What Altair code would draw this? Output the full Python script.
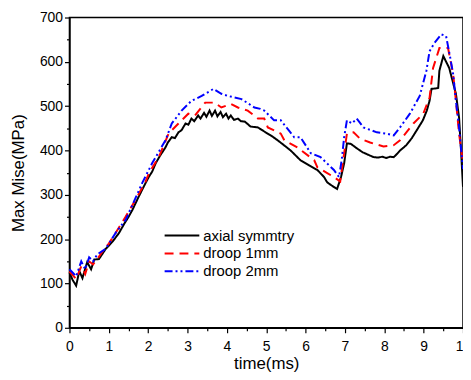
import altair as alt
import pandas as pd

series_names = ["axial symmtry", "droop 1mm", "droop 2mm"]

black_t = [0.0, 0.08, 0.17, 0.25, 0.33, 0.45, 0.55, 0.63, 0.75, 0.92, 1.0, 1.1, 1.26, 1.4, 1.5, 1.6, 1.76,
           1.93, 2.02, 2.1, 2.19, 2.3, 2.44, 2.5, 2.6, 2.68, 2.77, 2.85, 2.95, 3.02, 3.1, 3.17, 3.27, 3.33,
           3.42, 3.48, 3.56, 3.62, 3.7, 3.76, 3.84, 3.9, 3.98, 4.04, 4.1, 4.18, 4.28, 4.36, 4.46, 4.6, 4.79,
           5.0, 5.15, 5.29, 5.45, 5.62, 5.87, 6.1, 6.3, 6.47, 6.55, 6.68, 6.8, 6.9, 6.98, 7.05, 7.15,
           7.3, 7.45, 7.6, 7.73, 7.85, 7.95, 8.05, 8.15, 8.24, 8.32, 8.4, 8.56, 8.7, 8.82, 8.98, 9.08, 9.15,
           9.2, 9.3, 9.37, 9.4, 9.5, 9.65, 9.82, 9.9, 9.95, 10.0]
black_v = [125, 108, 95, 128, 112, 148, 132, 154, 155, 178, 185, 195, 214, 236, 250, 266, 296,
           326, 341, 352, 371, 388, 407, 418, 430, 428, 441, 446, 461, 458, 472, 466, 479, 472,
           485, 476, 490, 478, 490, 477, 487, 475, 483, 472, 479, 469, 472, 466, 465, 454, 452,
           440, 432, 423, 412, 400, 378, 366, 356, 340, 328, 320, 313, 340, 371, 416, 415,
           405, 396, 390, 385, 384, 386, 383, 386, 385, 392, 400, 412, 428, 445, 468, 490, 512,
           539, 540, 541, 580, 613, 586, 528, 474, 400, 318]

red_t = [0.0, 0.17, 0.3, 0.4, 0.5, 0.6, 0.7, 0.84, 1.0, 1.18, 1.43, 1.68, 1.93, 2.02, 2.27, 2.52,
         2.77, 3.02, 3.19, 3.45, 3.69, 3.86, 4.1, 4.28, 4.53, 4.79, 4.95, 5.04, 5.37, 5.46, 5.79,
         6.22, 6.3, 6.55, 6.72, 6.88, 6.98, 7.05, 7.22, 7.38, 7.64, 7.98, 8.24, 8.4, 8.74, 8.99,
         9.15, 9.24, 9.4, 9.62, 9.75, 9.82, 9.9, 10.0]
red_v = [127, 110, 139, 121, 150, 143, 154, 172, 190, 215, 251, 289, 329, 349, 385, 438,
         461, 483, 479, 508, 508, 497, 505, 497, 490, 472, 472, 452, 438, 423, 407,
         378, 362, 349, 340, 330, 394, 438, 441, 427, 418, 409, 412, 423, 461, 483,
         519, 586, 631, 631, 572, 512, 438, 371]

blue_t = [0.0, 0.17, 0.3, 0.4, 0.5, 0.6, 0.71, 0.92, 1.18, 1.43, 1.68, 1.85, 2.1, 2.44, 2.6, 2.85,
          3.1, 3.36, 3.66, 3.86, 4.03, 4.37, 4.7, 4.85, 4.95, 5.2, 5.37, 5.71, 5.87, 6.13, 6.38,
          6.72, 6.85, 6.92, 6.98, 7.05, 7.18, 7.3, 7.47, 7.81, 8.06, 8.24, 8.4, 8.65, 8.9, 9.07,
          9.15, 9.27, 9.45, 9.57, 9.66, 9.75, 9.82, 9.9, 10.0]
blue_v = [132, 116, 150, 132, 159, 150, 166, 178, 215, 244, 293, 327, 371, 423, 461, 490,
          512, 523, 539, 528, 523, 516, 497, 494, 490, 468, 468, 430, 430, 394, 385,
          356, 340, 380, 430, 468, 461, 472, 452, 441, 438, 434, 452, 483, 523, 580,
          624, 642, 662, 658, 617, 572, 512, 452, 358]

rows = []
for name, ts, vs in zip(series_names, [black_t, red_t, blue_t], [black_v, red_v, blue_v]):
    for i, (t, v) in enumerate(zip(ts, vs)):
        rows.append({"time": t, "value": v, "series": name, "order": i})
df = pd.DataFrame(rows)

FONT = "Liberation Sans"

x_axis = alt.Axis(
    title="time(ms)",
    values=[i * 0.5 for i in range(21)],
    labelExpr="datum.value % 1 === 0 ? format(datum.value, 'd') : ''",
    tickSize={"condition": {"test": "datum.value % 1 === 0", "value": 5}, "value": 3},
    grid=False, domainColor="black", tickColor="black", domainWidth=1.5, tickWidth=1.2,
    labelFont=FONT, labelFontSize=14, labelColor="black", labelPadding=7,
    titleFont=FONT, titleFontSize=17, titleFontWeight="normal", titleColor="black", titlePadding=2,
    labelFlush=False,
)
y_axis = alt.Axis(
    title="Max Mise(MPa)",
    values=[i * 50 for i in range(15)],
    labelExpr="datum.value % 100 === 0 ? format(datum.value, 'd') : ''",
    tickSize={"condition": {"test": "datum.value % 100 === 0", "value": 5}, "value": 3},
    grid=False, domainColor="black", tickColor="black", domainWidth=1.5, tickWidth=1.2,
    labelFont=FONT, labelFontSize=14, labelColor="black", labelPadding=2,
    titleFont=FONT, titleFontSize=17, titleFontWeight="normal", titleColor="black", titlePadding=12,
    labelFlush=False,
)

legend = alt.Legend(title=None, orient="none", legendX=95, legendY=211,
                    symbolType="stroke", symbolSize=1225, symbolStrokeWidth=2,
                    labelFont=FONT, labelFontSize=15, labelColor="black",
                    labelOffset=3, rowPadding=0, clipHeight=18, padding=0)

chart = alt.Chart(df).mark_line(strokeWidth=2).encode(
    x=alt.X("time:Q", scale=alt.Scale(domain=[0, 10], nice=False), axis=x_axis),
    y=alt.Y("value:Q", scale=alt.Scale(domain=[0, 700], nice=False), axis=y_axis),
    color=alt.Color("series:N", scale=alt.Scale(domain=series_names, range=["black", "red", "blue"]),
                    legend=legend),
    strokeDash=alt.StrokeDash("series:N", scale=alt.Scale(domain=series_names,
                                                          range=[[1, 0], [9, 6], [8, 3, 2, 3, 2, 3]]),
                              legend=legend),
    order="order:Q",
).properties(
    width=397, height=313,
    autosize=alt.AutoSizeParams(type="none"),
    padding={"left": 62, "top": 8, "right": 0, "bottom": 43},
).configure_view(stroke="black", strokeWidth=1.5)

chart.save("out.html", embed_options={"renderer": "svg", "actions": False})
